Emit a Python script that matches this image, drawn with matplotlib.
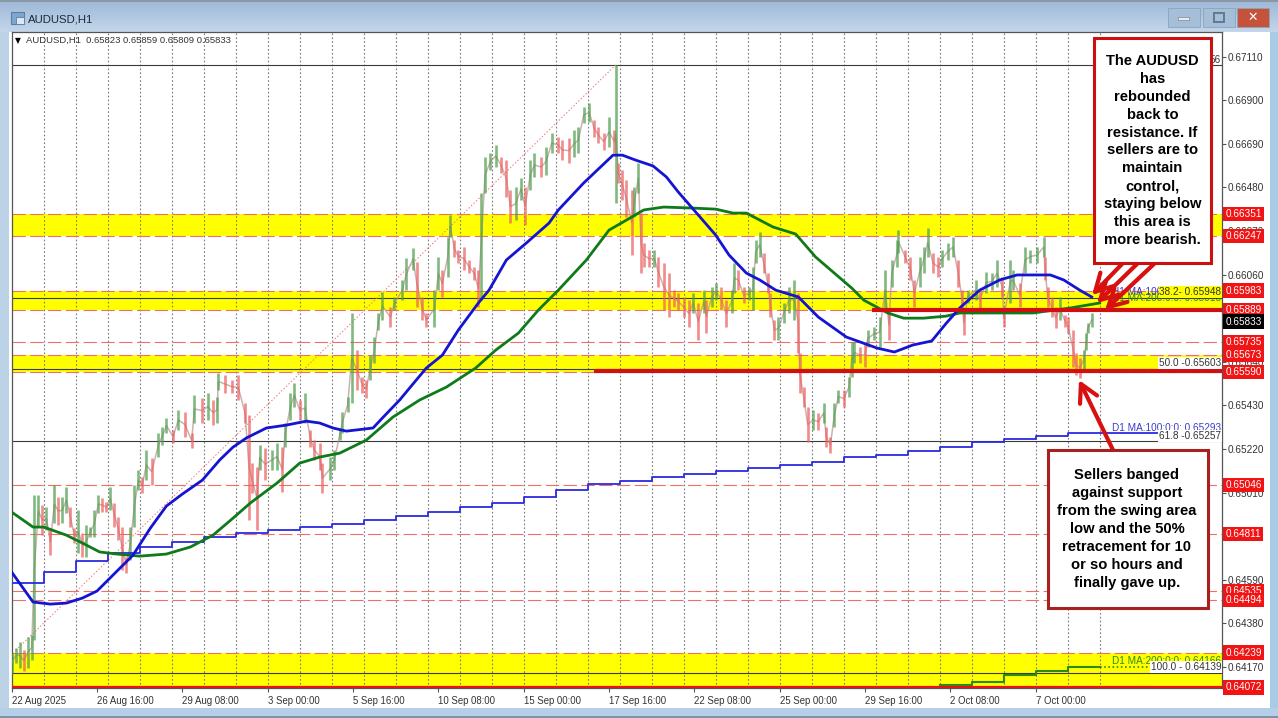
#!/usr/bin/env python3
# AUDUSD H1 chart with support / resistance bands and two call-outs

import numpy as np
import matplotlib
matplotlib.use("Agg")
import matplotlib.pyplot as plt
from matplotlib.patches import Rectangle
from matplotlib.transforms import blended_transform_factory

# hourly bars, thinned to the visible swings (prices in points, 1e-5)
candle_bars = [0,3,6,9,12,15,17,20,23,26,29,32,35,38,41,44,47,50,53,56,59,62,65,68,71,74,77,80,83,86,89,92,95,98,
    101,105,110,113,116,121,125,130,135,137,143,147,151,154,155,160,165,170,175,178,180,184,186,190,195,199,
    203,205,209,212,216,220,224,227,231,233,239,242,246,248,252,255,259,263,266,269,272,275,278,284,287,293,296,
    301,304,308,311,317,320,323,327,329,332,335,339,343,347,350,352,355,359,363,367,371,374,378,382,385,389,392,
    397,401,405,410,413,418,422,425,429,433,437,440,444,448,452,453,455,458,461,465,467,470,472,474,478,482,485,
    489,493,497,500,504,508,511,515,519,521,525,528,532,536,540,542,545,549,553,556,558,561,564,567,569,572,575,
    579,583,587,590,591,594,597,601,605,609,611,614,617,620,624,628,630,632,636,640,642,647,651,655,658,660,664,
    665,670,674,677,681,684,687,691,695,698,702,706,710,713,714,717,723,726,731,735,739,743,744,749,751,756,760,
    764,769,774,775,777,780,783,786,790,792,796,798,801,804,806,807,810]
candle_highs = [64237,64261,64290,64252,64314,64324,64998,64998,64950,64940,64839,65046,64988,64988,65037,64940,64839,64926,64815,64854,64844,64926,64998,64984,64964,65037,64960,64892,64844,64700,64844,65046,65118,65085,
    65215,65176,65297,65326,65369,65311,65408,65398,65297,65480,65465,65489,65456,65470,65586,65576,65552,65576,65441,65383,65152,65133,65239,65224,65215,65249,
    65229,65345,65489,65537,65456,65489,65311,65263,65249,65152,65181,65215,65311,65398,65470,65875,65696,65566,65552,65672,65759,65875,65976,65903,65952,66034,66140,
    66188,66120,65952,65875,65985,66144,66082,66241,66347,66226,66178,66193,66130,66096,66082,66452,66626,66645,66684,66626,66611,66467,66481,66525,66481,66611,66645,
    66626,66674,66741,66722,66708,66717,66756,66770,66867,66886,66804,66770,66741,66819,66756,67069,66597,66563,66515,66467,66481,66597,66356,66212,66178,66178,66144,
    66115,66067,65985,65971,65952,65937,65971,65923,65985,65937,66000,66019,66000,65937,65985,66115,66082,66000,66000,66096,66226,66265,66164,66067,65971,65841,65855,
    65923,66000,66034,65971,65682,65518,65422,65408,65393,65441,65326,65277,65441,65504,65504,65566,65735,65735,65711,65730,65793,65807,65855,66082,65889,66130,66226,
    66274,66178,66144,66034,66144,66193,66284,66164,66144,66178,66212,66241,66130,65985,65889,65985,66034,65985,66072,66067,66130,66048,65903,66130,66082,66019,66193,
    66178,66193,66241,66144,66000,65952,65903,65952,65865,65855,65793,65682,65658,65696,65778,65826,65875]
candle_lows = [64141,64189,64165,64150,64165,64203,64300,64844,64805,64830,64709,64863,64854,64863,64911,64844,64767,64719,64700,64700,64796,64796,64911,64916,64916,64926,64844,64781,64637,64622,64685,64844,65022,65008,
    65070,65046,65181,65239,65297,65249,65311,65277,65224,65345,65345,65359,65335,65345,65504,65489,65489,65456,65345,64878,65008,64830,65118,65070,65118,65118,
    65013,65229,65359,65422,65359,65345,65229,65167,65118,65008,65070,65118,65263,65297,65398,65441,65504,65489,65465,65552,65634,65793,65841,65807,65889,65937,65985,
    66082,65903,65841,65807,65807,65985,65952,66048,66241,66144,66115,66082,66067,66034,65903,65937,66452,66563,66578,66549,66433,66308,66322,66419,66298,66467,66530,
    66530,66539,66645,66645,66611,66597,66626,66645,66790,66794,66722,66693,66660,66674,66645,66404,66501,66419,66337,66154,66337,66452,66067,66096,66096,66096,66000,
    65889,65855,65903,65889,65855,65807,65875,65745,65875,65778,65903,65937,65889,65807,65875,65971,65985,65923,65937,65889,66115,66144,66067,65971,65855,65745,65745,
    65826,65875,65841,65682,65489,65422,65253,65311,65311,65345,65229,65200,65326,65441,65422,65470,65566,65634,65634,65614,65711,65745,65711,65889,65745,66000,66096,
    66164,66115,66034,65903,66000,66067,66144,66067,66048,66096,66130,66144,66000,65875,65769,65923,65937,65889,65971,65985,66000,65952,65807,65923,65985,65903,66067,
    66115,66115,66144,66034,65903,65855,65802,65841,65807,65778,65614,65576,65562,65600,65696,65778,65807]

# moving averages on the hourly chart
ma100_bars = [0,16,29,41,53,64,76,91,104,116,128,143,156,166,176,191,206,221,231,241,251,271,278,291,299,311,323,335,350,358,371,386,403,410,429,451,458,468,481,491,500,513,528,538,551,561,573,590,605,626,649,662,676,690,701,711,726,741,754,779,789,801,810]
ma100_vals = [64627,64483,64473,64478,64502,64536,64613,64709,64839,64945,65003,65070,65167,65229,65273,65321,65335,65354,65345,65321,65306,65321,65369,65456,65518,65610,65672,65793,65923,65985,66130,66212,66308,66371,66501,66635,66635,66611,66583,66530,66457,66361,66250,66154,66067,66034,65985,65952,65855,65759,65706,65687,65721,65740,65826,65899,65985,66034,66058,66058,66034,65985,65952]
ma200_bars = [0,16,24,41,53,66,79,96,116,134,151,166,179,199,216,231,246,266,286,306,326,348,363,380,395,410,431,448,461,474,489,511,528,541,551,571,588,603,630,639,657,669,684,701,711,739,766,794,816]
ma200_vals = [64916,64844,64844,64805,64767,64724,64714,64704,64714,64748,64805,64887,64960,65056,65152,65181,65200,65263,65374,65456,65518,65610,65696,65778,65889,65985,66130,66274,66322,66371,66385,66380,66375,66356,66356,66289,66255,66144,65995,65937,65875,65850,65850,65860,65875,65875,65875,65899,65923]

# daily averages, one step per day
d1_ma100_bars = [0,24,48,72,96,120,144,168,192,216,240,264,288,312,336,360,384,408,432,456,480,504,528,552,576,600,624,648,672,696,720,744,768,792,861]
d1_ma100_vals = [64574,64627,64680,64719,64748,64772,64796,64815,64830,64844,64858,64878,64897,64916,64940,64960,64988,65022,65051,65065,65085,65099,65114,65128,65143,65157,65181,65191,65210,65229,65253,65268,65282,65297,65297]
d1_ma200_bars = [696,720,744,768,792,816]
d1_ma200_vals = [64083,64098,64131,64151,64170,64170]
d1_ma200_tail_bars = [816,855]
d1_ma200_tail_vals = [64170,64170]

# fibonacci
fib_bars = [3,453]
fib_vals = [64250,67069]
fib_levels = [67069,65948,65603,65257,64139]
fib_labels = [(65634,"50.0 -0.65603"),(65282,"61.8 -0.65257"),(64170,"100.0 - 0.64139")]

bands = [(66247,66351),(65889,65983),(65590,65673),(64072,64239)]
levels = [66351,66247,65983,65889,65735,65673,65590,65046,64811,64535,64494,64239]
red_labels = [66351,66247,65983,65889,65735,65673,65590,65046,64811,64535,64494,64239,64072]
last_price = 65833

price_ticks = [67110,66900,66690,66480,66270,66060,65850,65640,65430,65220,65010,64800,64590,64380,64170]
tick_bars = [0,64,128,192,256,320,384,448,512,576,640,704,768]
tick_labels = ["22 Aug 2025","26 Aug 16:00","29 Aug 08:00","3 Sep 00:00","5 Sep 16:00","10 Sep 08:00",
    "15 Sep 00:00","17 Sep 16:00","22 Sep 08:00","25 Sep 00:00","29 Sep 16:00","2 Oct 08:00","7 Oct 00:00"]
grid_bars = np.arange(24, 817, 24)

box_top_text = ("The AUDUSD\nhas\nrebounded\nback to\nresistance. If\nsellers are to\nmaintain\ncontrol,\n"
    "staying below\nthis area is\nmore bearish.")
box_low_text = ("Sellers banged\nagainst support\nfrom the swing area\nlow and the 50%\nretracement for 10\n"
    "or so hours and\nfinally gave up.")

plt.rcParams['font.family'] = ['Liberation Sans', 'DejaVu Sans']
W, H = 1278, 718
fig = plt.figure(figsize=(W/100, H/100), dpi=100, facecolor='white')

# window frame, in pixels
bg = fig.add_axes([0, 0, 1, 1], zorder=0)
bg.set_xlim(0, W)
bg.set_ylim(H, 0)
bg.axis('off')
grad = np.linspace(0, 1, 32).reshape(-1, 1)
bg.imshow(grad, extent=[0, W, 32, 0], aspect='auto', cmap=matplotlib.colors.LinearSegmentedColormap.from_list('t', ['#9db8d6', '#c3d6ea']))
bg.set_xlim(0, W)
bg.set_ylim(H, 0)
bg.add_patch(Rectangle((0, 32), 9, H-32, fc='#bcd2e6', ec='none'))
bg.add_patch(Rectangle((1270, 32), 8, H-32, fc='#a9cbe6', ec='none'))
bg.add_patch(Rectangle((0, 708), W, 10, fc='#b5cfe8', ec='none'))
bg.add_patch(Rectangle((0, 716), W, 2, fc='#7f93a6', ec='none'))
bg.add_patch(Rectangle((0, 0), W, 2, fc='#8a98a8', ec='none'))
bg.add_patch(Rectangle((11, 12), 13, 12, fc='#7fa6cf', ec='#5b7ea5', lw=0.8))
bg.add_patch(Rectangle((16, 17), 8, 7, fc='#dce8f3', ec='#5b7ea5', lw=0.6))
bg.text(28, 19, "AUDUSD,H1", fontsize=8.2, color='#1a2a3a', va='center', ha='left')
for x0, x1, col in [(1168, 1200, '#a6bfd9'), (1203, 1235, '#a6bfd9'), (1237, 1269, '#c5523a')]:
    bg.add_patch(Rectangle((x0, 8), x1-x0, 19, fc=col, ec='#8da3bb', lw=0.6))
bg.add_patch(Rectangle((1178, 17), 11, 3, fc='#e6edf4', ec='#75879b', lw=0.5))
bg.add_patch(Rectangle((1214, 13), 10, 9, fc='none', ec='#66788c', lw=1.4))
bg.text(1253, 17.5, "\u2715", fontsize=9, color='white', ha='center', va='center', fontweight='bold', family=['DejaVu Sans'])

# chart
ax = fig.add_axes([11.7/W, 1-688/H, (1222-11.7)/W, (688-32)/H], zorder=1)
ax.set_xlim(0, (1222-11.7)/(4/3))
ax.set_ylim(0.64069, 0.67228)
ax.set_facecolor('white')
for s in ax.spines.values():
    s.set_color('#555555')
    s.set_linewidth(0.9)

for lo, hi in bands:
    ax.axhspan(lo/1e5, hi/1e5, fc='#ffff00', ec='none', zorder=1)
for b in grid_bars:
    ax.axvline(b, color='#7a7a7a', lw=0.8, ls=(0, (1.5, 2)), zorder=2)
for lv in levels:
    ax.axhline(lv/1e5, color='#ee6f66', lw=0.8, ls=(0, (12, 4)), zorder=2)
for lv in fib_levels:
    ax.axhline(lv/1e5, color='#3a3a3a', lw=0.8, zorder=2)
ax.plot(fib_bars, np.array(fib_vals)/1e5, color='#ee7777', lw=0.7, ls=(0, (1.5, 2)), zorder=2)
ax.axhline(0.64072, color='#ee1111', lw=1.6, zorder=3)

highs = np.array(candle_highs)/1e5
lows = np.array(candle_lows)/1e5
mids = (highs+lows)/2
up = np.r_[True, mids[1:] >= mids[:-1]]
cols = ['#4f9f4f' if u else '#ee5f5f' for u in up]
ax.plot(candle_bars, mids, color='#b98f8f', lw=1.1, alpha=0.7, zorder=3)
ax.vlines(candle_bars, lows, highs, colors=cols, lw=1.9, alpha=0.72, zorder=3)

ax.step(d1_ma100_bars, np.array(d1_ma100_vals)/1e5, where='post', color='#2a2ae0', lw=1.3, zorder=4)
ax.step(d1_ma200_bars, np.array(d1_ma200_vals)/1e5, where='post', color='#2e8b10', lw=1.5, zorder=4)
ax.plot(d1_ma200_tail_bars, np.array(d1_ma200_tail_vals)/1e5, color='#2e8b10', lw=1.2, ls=(0, (1, 1.5)), zorder=4)
ax.plot(ma200_bars, np.array(ma200_vals)/1e5, color='#0f7a1a', lw=2.0, zorder=5)
ax.plot(ma100_bars, np.array(ma100_vals)/1e5, color='#1414d2', lw=2.0, zorder=5)

# hand drawn support / resistance lines
ax.plot([645, 908], [0.65889, 0.65889], color='#d01010', lw=3.0, solid_capstyle='butt', zorder=6, clip_on=False)
ax.plot([437, 908], [0.65595, 0.65595], color='#d01010', lw=3.0, solid_capstyle='butt', zorder=6, clip_on=False)

ax.yaxis.tick_right()
ax.set_yticks(np.array(price_ticks)/1e5)
ax.set_yticklabels(["%.5f" % (p/1e5) for p in price_ticks])
ax.set_xticks(tick_bars)
ax.set_xticklabels(tick_labels, ha='left')
ax.tick_params(axis='y', length=3, width=0.8, color='#555555', labelsize=7.2, labelcolor='#333333', pad=1)
ax.tick_params(axis='x', length=3, width=0.8, color='#555555', labelsize=6.9, labelcolor='#333333', pad=3)

lab = blended_transform_factory(ax.transAxes, ax.transData)
right_x = 1.0026
for p in red_labels:
    ax.text(right_x, p/1e5, "%.5f" % (p/1e5), transform=lab, fontsize=7.2, color='white', va='center', ha='left',
        zorder=9, clip_on=False, bbox=dict(fc='#f01414', ec='#f01414', pad=1.6, lw=0))
ax.text(right_x, last_price/1e5, "%.5f" % (last_price/1e5), transform=lab, fontsize=7.2, color='white', va='center', ha='left',
    zorder=10, clip_on=False, bbox=dict(fc='black', ec='black', pad=1.6, lw=0))

ax.text(0.9993, 0.65947, "H1 MA:200:0:0: 0.65915", transform=lab, fontsize=7.2, color='#2e8b10', va='center', ha='right', zorder=7)
ax.text(0.9993, 0.65976, "H1 MA:100:0:0: 0.65948", transform=lab, fontsize=7.2, color='#3a3ad0', va='center', ha='right', zorder=7, clip_on=False)
ax.text(0.9993, 0.65976, "38.2- 0.65948", transform=lab, fontsize=7.2, color='#333333', va='center', ha='right', zorder=8,
    bbox=dict(fc='#ffff00', ec='none', pad=0.4))
for p, t in fib_labels:
    ax.text(0.9993, p/1e5, t, transform=lab, fontsize=7.2, color='#333333', va='center', ha='right', zorder=8,
        bbox=dict(fc='white', ec='none', pad=0.6))
ax.text(0.9993, 0.65321, "D1 MA:100:0:0: 0.65293", transform=lab, fontsize=7.2, color='#3a3ad0', va='center', ha='right', zorder=7)
ax.text(0.9993, 0.64199, "D1 MA:200:0:0: 0.64166", transform=lab, fontsize=7.2, color='#2e8b10', va='center', ha='right', zorder=7)
ax.text(0.9993, 0.67093, "56", transform=lab, fontsize=7.2, color='#333333', va='center', ha='right', zorder=7)

ax.text(0.0025, 0.9875, "\u25BC", transform=ax.transAxes, fontsize=5.5, color='black', va='center', ha='left', zorder=7, family=['DejaVu Sans'])
ax.text(0.0115, 0.9875, "AUDUSD,H1  0.65823 0.65859 0.65809 0.65833", transform=ax.transAxes, fontsize=6.8, color='#333333', va='center', ha='left', zorder=7)

# call-outs, in pixels
top = fig.add_axes([0, 0, 1, 1], zorder=5)
top.set_xlim(0, W)
top.set_ylim(H, 0)
top.axis('off')
top.patch.set_alpha(0)

arrow = dict(arrowstyle='->,head_length=0.7,head_width=0.38', lw=3.0, color='#d81010', shrinkA=0, shrinkB=0, mutation_scale=18)
for tail, tip in [((1123, 263), (1092, 295)), ((1138, 263), (1097, 303)), ((1155, 263), (1105, 310)), ((1113, 450), (1079, 380))]:
    top.annotate('', xy=tip, xytext=tail, arrowprops=arrow)

top.add_patch(Rectangle((1094, 38), 117, 225, fc='white', ec='#cc0f0f', lw=2.2, zorder=6))
top.add_patch(Rectangle((1048, 450), 160, 158, fc='white', ec='#a82020', lw=2.2, zorder=6))
top.text(1152.5, 150.5, box_top_text, fontsize=10.6, fontweight='bold', color='black', ha='center', va='center', linespacing=1.36, zorder=7)
top.text(1127, 529, box_low_text, fontsize=10.6, fontweight='bold', color='black', ha='center', va='center', linespacing=1.36, zorder=7)

fig.savefig("out.png", dpi=100, facecolor='white')
